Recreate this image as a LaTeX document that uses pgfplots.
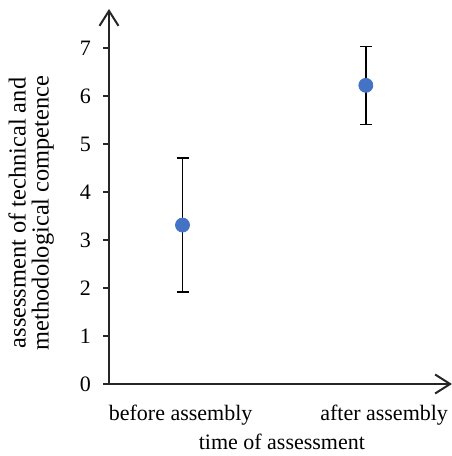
\documentclass[border=0pt]{standalone}
\usepackage{pgfplots}
\pgfplotsset{compat=1.18}
\usepackage{pgfplotstable}
\usepackage{fontspec}
\setmainfont{Liberation Serif}
\usetikzlibrary{arrows.meta}
\definecolor{markblue}{HTML}{4472C4}
\definecolor{axisgray}{HTML}{262626}
\pgfplotstableread{
x y ep em
0 3.31 1.40 1.39
1 6.22 0.81 0.82
}\datatable
\begin{document}
\begin{tikzpicture}
\begin{axis}[
  scale only axis,
  width=171.5bp, height=187.5bp,
  xmin=-0.401, xmax=1.47,
  ymin=0, ymax=7.81,
  clip=false,
  axis lines=left,
  axis line style={line width=1bp, color=axisgray, -{Straight Barb[length=7.5bp,width=9.5bp,line width=1bp]}},
  ytick={0,1,2,3,4,5,6,7},
  tick align=outside,
  major tick length=3bp,
  y tick style={line width=1bp, color=axisgray},
  xtick={-0.01,1.10},
  xticklabels={before assembly, after assembly},
  x tick style={draw=none},
  font=\fontsize{11bp}{12bp}\selectfont,
  /pgf/number format/assume math mode=true,
  yticklabel style={font=\fontsize{11bp}{12bp}\selectfont, xshift=-2.5bp},
  xticklabel style={font=\fontsize{11bp}{12bp}\selectfont, yshift=-4bp},
  xlabel={time of assessment},
  xlabel style={font=\fontsize{11bp}{12bp}\selectfont, at={(axis description cs:0.504,-0.155)}, anchor=center},
  ylabel={assessment of technical and\\methodological competence},
  ylabel style={font=\fontsize{12.2bp}{11.5bp}\selectfont, align=center, at={(axis description cs:-0.227,0.456)}, anchor=center},
]
\addplot+[
  only marks,
  mark=*,
  mark size=3.5bp,
  mark options={fill=markblue, draw=markblue},
  error bars/.cd,
    y dir=both, y explicit,
    error bar style={line width=0.75bp, color=black},
    error mark options={rotate=90, mark size=3bp, line width=0.75bp, color=black},
] table[x=x, y=y, y error plus=ep, y error minus=em] {\datatable};
\end{axis}
\pgfresetboundingbox
\path (-54.5bp,-36bp) rectangle (171.5bp,192bp);
\end{tikzpicture}
\end{document}
